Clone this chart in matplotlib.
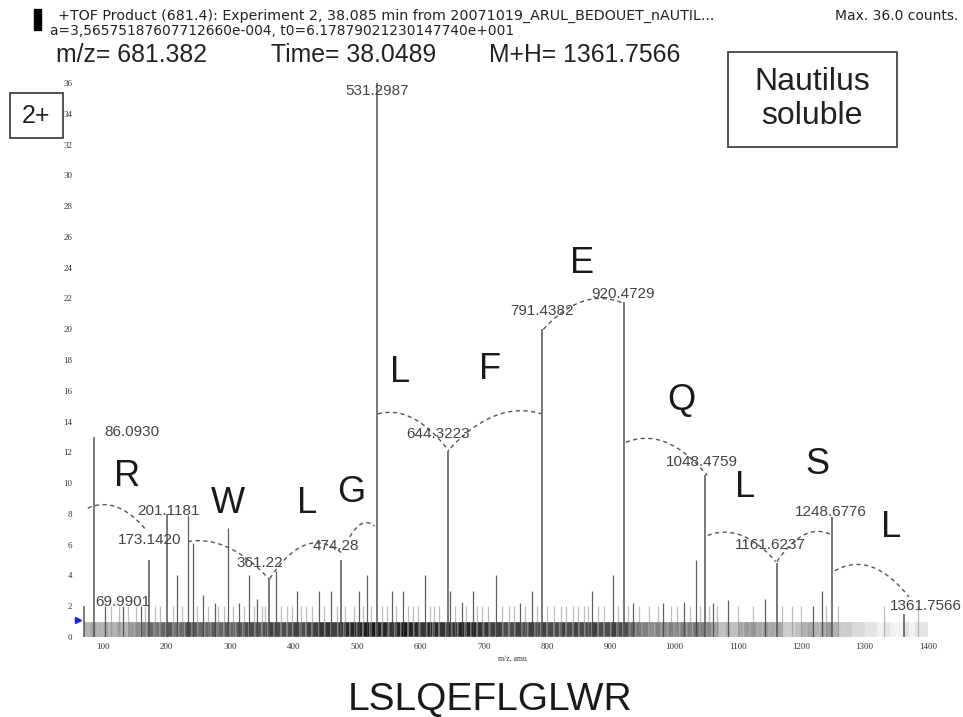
import numpy as np
import matplotlib
matplotlib.use("Agg")
import matplotlib.pyplot as plt
from matplotlib.patches import Rectangle

# ---------------- data ----------------
# labelled fragment peaks (m/z, counts)
peak_labels = ["69.9901", "86.0930", "173.1420", "201.1181", "361.22", "474.28",
               "531.2987", "644.3223", "791.4382", "920.4729", "1048.4759",
               "1161.6237", "1248.6776", "1361.7566"]
peak_mz = [69.99, 86.09, 173.14, 201.12, 361.22, 474.28, 531.30, 644.32,
           791.44, 920.47, 1048.48, 1161.62, 1248.68, 1361.76]
peak_int = [2.0, 13.0, 5.0, 8.0, 3.7, 5.0, 36.0, 12.1, 20.0, 21.8, 10.5, 4.8, 7.8, 1.5]

# other (unlabelled) peaks
minor_mz = [103, 131, 160, 216, 234, 242, 258, 276, 297, 314, 330, 343, 372, 405,
            441, 459, 503, 516, 555, 572, 607, 647, 666, 683, 720, 757, 776, 871,
            904, 935, 983, 1016, 1035, 1061, 1085, 1143, 1219, 1233]
minor_int = [2.0, 2.0, 2.0, 4.0, 7.9, 6.1, 2.7, 2.2, 7.1, 2.2, 4.0, 2.5, 4.3, 3.0,
             3.0, 3.0, 3.0, 4.0, 3.0, 3.0, 4.0, 3.0, 2.3, 3.0, 4.0, 2.2, 3.0, 3.0,
             4.0, 2.2, 2.2, 2.3, 5.0, 2.2, 2.4, 2.5, 2.0, 3.0]

# peaks of 2 counts
two_count_mz = [112, 125, 140, 152, 166, 182, 190, 211, 224, 248, 265, 282, 290, 305,
                322, 338, 350, 356, 380, 390, 398, 412, 420, 430, 448, 468, 482, 495,
                510, 522, 540, 548, 562, 580, 588, 596, 615, 622, 630, 655, 672, 690,
                698, 706, 728, 740, 748, 765, 784, 800, 810, 822, 830, 840, 848, 858,
                865, 880, 890, 912, 928, 945, 960, 975, 995, 1005, 1025, 1040, 1055,
                1068, 1100, 1125, 1170, 1185, 1200, 1240, 1258, 1330, 1385]

# density of the 1-count background, per 10 m/z bin starting at 70
bg_start = 70
bg_density = [0.30, 0.35, 0.30, 0.35, 0.30, 0.35, 0.30, 0.40, 0.45, 0.50,   # 70-170
              0.60, 0.55, 0.60, 0.65, 0.55, 0.60, 0.70, 0.65, 0.60, 0.60,   # 170-270
              0.65, 0.60, 0.65, 0.60, 0.65, 0.70, 0.70, 0.65, 0.70, 0.75,   # 270-370
              0.70, 0.70, 0.70, 0.75, 0.70, 0.75, 0.75, 0.80, 0.80, 0.75,   # 370-470
              0.80, 0.85, 0.85, 0.85, 0.90, 0.90, 0.85, 0.85, 0.80, 0.85,   # 470-570
              0.90, 0.85, 0.85, 0.80, 0.85, 0.85, 0.80, 0.85, 0.80, 0.85,   # 570-670
              0.85, 0.85, 0.80, 0.80, 0.75, 0.75, 0.70, 0.70, 0.75, 0.70,   # 670-770
              0.75, 0.70, 0.75, 0.70, 0.70, 0.75, 0.70, 0.75, 0.70, 0.70,   # 770-870
              0.75, 0.70, 0.70, 0.75, 0.70, 0.70, 0.60, 0.55, 0.50, 0.45,   # 870-970
              0.50, 0.45, 0.50, 0.45, 0.50, 0.50, 0.55, 0.50, 0.45, 0.35,   # 970-1070
              0.25, 0.30, 0.25, 0.35, 0.40, 0.40, 0.35, 0.40, 0.35, 0.35,   # 1070-1170
              0.20, 0.20, 0.25, 0.30, 0.35, 0.30, 0.35, 0.40, 0.30, 0.20,   # 1170-1270
              0.20, 0.15, 0.15, 0.10, 0.10, 0.05, 0.10, 0.05, 0.05, 0.12,   # 1270-1370
              0.05, 0.10, 0.10]                                             # 1370-1400

# fragment-ladder arcs: start, apex, end (m/z, counts)
arc_x = [(76, 100, 169), (234, 245, 363), (363, 430, 478), (489, 510, 528),
         (533, 552, 645), (648, 755, 791), (794, 880, 919), (924, 950, 1052),
         (1053, 1085, 1160), (1162, 1215, 1250), (1253, 1282, 1370)]
arc_y = [(8.37, 8.6, 6.9), (6.2, 6.25, 3.7), (3.8, 6.1, 5.4), (6.5, 7.4, 7.2),
         (14.5, 14.6, 12.1), (12.3, 14.7, 14.5), (20.0, 22.0, 21.7), (12.65, 12.9, 10.5),
         (6.6, 6.8, 4.9), (4.9, 6.8, 6.6), (4.3, 4.7, 2.6)]

residues = ["R", "W", "L", "G", "L", "F", "E", "Q", "L", "S", "L"]

x_ticks = list(range(100, 1500, 100))
y_ticks = list(range(0, 38, 2))

# ---------------- layout ----------------
W, H = 963, 717
fig = plt.figure(figsize=(W / 100, H / 100), dpi=100)
fig.patch.set_facecolor("white")

def fx(px):
    return px / W

def fy(py):
    return 1 - py / H

ax = fig.add_axes([fx(77.6), fy(637), (947 - 77.6) / W, (637 - 83) / H])
ax.set_xlim(60, 1430)
ax.set_ylim(0, 36)
for s in ax.spines.values():
    s.set_visible(False)
ax.set_xticks(x_ticks)
ax.set_yticks(y_ticks)
ax.tick_params(length=0, pad=4)
for lab in ax.get_xticklabels() + ax.get_yticklabels():
    lab.set_family("Liberation Serif")
    lab.set_fontsize(6.5)
    lab.set_color("#333333")
ax.tick_params(axis="y", pad=4)
ax.set_xlabel("m/z, amu", family="Liberation Serif", fontsize=5.5, color="#333333", labelpad=3)

# background band (1 count)
bg_x = [bg_start + 10 * i for i in range(len(bg_density))]
for x0, d in zip(bg_x, bg_density):
    ax.bar(x0, 1.0, width=10, align="edge", color="black", alpha=d,
           edgecolor="white", linewidth=0.35, zorder=1)

ax.vlines(two_count_mz, 0, 2, colors="#888888", linewidth=0.9, alpha=0.55, zorder=2)
ax.vlines(minor_mz, 0, minor_int, colors="#444444", linewidth=0.9, alpha=0.85, zorder=2)
ax.vlines(peak_mz, 0, peak_int, colors="#555555", linewidth=1.1, zorder=3)

# dashed arcs
for (x0, xa, x1), (y0, ya, y1) in zip(arc_x, arc_y):
    c = np.polyfit([x0, xa, x1], [y0, ya, y1], 2)
    xs = np.linspace(x0, x1, 60)
    ax.plot(xs, np.polyval(c, xs), color="#555555", linestyle=(0, (3, 2.5)),
            linewidth=1.0, zorder=4)

# peak labels (positions in data units)
label_pos = [(131.5, 2.27), (101.6, 13.3), (174, 6.3), (202.5, 8.2), (347, 4.8),
             (467, 5.9), (532, 35.5), (628, 13.2), (792, 21.2), (919, 22.3),
             (1044, 11.4), (1151, 6.0), (1247, 8.1), (1397, 2.0)]
for t, (lx, ly) in zip(peak_labels, label_pos):
    ha = "left" if t == "86.0930" else "center"
    ax.text(lx, ly, t, ha=ha, va="center", fontsize=11, color="#444444",
            family="Liberation Sans", zorder=5, clip_on=False)

res_pos = [(138, 10.4), (297, 8.7), (421, 8.7), (492, 9.4), (568, 17.2),
           (710, 17.4), (855, 24.3), (1011, 15.4), (1112, 9.7), (1225, 11.2),
           (1342, 7.1)]
for t, (lx, ly) in zip(residues, res_pos):
    ax.text(lx, ly, t, ha="center", va="center", fontsize=26, color="#1a1a1a",
            family="Liberation Sans", zorder=6)

# precursor marker
ax.plot([0], [1.1], marker=">", color="#1a1aff", markersize=5,
        transform=ax.get_yaxis_transform(), clip_on=False, zorder=6)

# ---------------- header texts ----------------
fig.patches.append(Rectangle((fx(34), fy(30)), 7 / W, 21 / H, transform=fig.transFigure,
                             color="black"))
hdr = dict(family="DejaVu Sans", color="#222222", va="center")
fig.text(fx(58), fy(16), "+TOF Product (681.4): Experiment 2, 38.085 min from 20071019_ARUL_BEDOUET_nAUTIL...",
         fontsize=10.3, **hdr)
fig.text(fx(50), fy(31), "a=3,56575187607712660e-004, t0=6.17879021230147740e+001",
         fontsize=9.9, **hdr)
fig.text(fx(958), fy(16), "Max. 36.0 counts.", fontsize=10, ha="right", **hdr)
big = dict(fontsize=17.8, family="Liberation Sans", color="#222222", va="center")
fig.text(fx(56), fy(55), "m/z= 681.382", **big)
fig.text(fx(271), fy(55), "Time= 38.0489", **big)
fig.text(fx(489), fy(55), "M+H= 1361.7566", **big)

# boxes
fig.patches.append(Rectangle((fx(10), fy(138)), 53 / W, 45 / H, transform=fig.transFigure,
                             facecolor="white", edgecolor="#444444", linewidth=1.3, zorder=10))
fig.text(fx(36), fy(116), "2+", fontsize=18, family="Liberation Sans", color="#222222",
         ha="center", va="center", zorder=11)
fig.patches.append(Rectangle((fx(728), fy(147)), 169 / W, 95 / H, transform=fig.transFigure,
                             facecolor="white", edgecolor="#444444", linewidth=1.3, zorder=10))
fig.text(fx(812), fy(99), "Nautilus\nsoluble", fontsize=23, family="Liberation Sans",
         color="#222222", ha="center", va="center", linespacing=1.15, zorder=11)

fig.text(fx(490), fy(700), "LSLQEFLGLWR", fontsize=28, family="Liberation Sans",
         color="#1a1a1a", ha="center", va="center")

fig.savefig("out.png", dpi=100, facecolor="white")
